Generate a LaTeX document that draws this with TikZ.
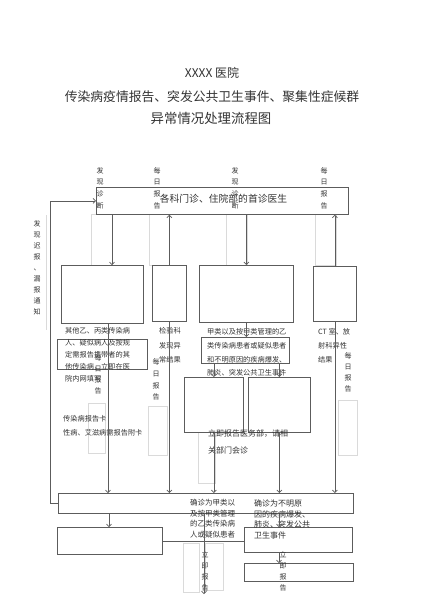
\documentclass[tikz,border=0pt]{standalone}
\usepackage{fontspec}
\setmainfont{Noto Sans CJK SC}
\usetikzlibrary{arrows.meta}
\definecolor{linec}{HTML}{5C5C5C}
\definecolor{txtc}{HTML}{333333}
\definecolor{faintc}{HTML}{DADADA}
\begin{document}
\begin{tikzpicture}[x=1pt,y=-1pt,
  box/.style={draw=linec,line width=0.8pt,inner sep=0pt,anchor=north west},
  faint/.style={draw=faintc,line width=0.6pt},
  arr/.style={draw=linec,line width=0.7pt,-{Straight Barb[length=2.5pt,width=5pt]}},
  conn/.style={draw=linec,line width=0.7pt},
  txt/.style={inner sep=0pt,text=txtc,align=left,anchor=west},
  vlab/.style={inner sep=0pt,text=txtc,align=center,font=\fontsize{7}{11.7}\selectfont},
  small/.style={font=\fontsize{7}{12}\selectfont}
]
\useasboundingbox[fill=white] (0,0) rectangle (424,600);

% faint text-box outlines (scan artefacts)
\draw[faint] (91,214) rectangle (112,265);
\draw[faint] (149,214) rectangle (169,265);
\draw[faint] (226,214) rectangle (247,265);
\draw[faint] (315,214) rectangle (336,265);
\draw[faint] (46,215) -- (46,330);
\draw[faint] (88,403) rectangle (105,453);
\draw[faint] (148,406) rectangle (167,455);
\draw[faint] (198,432) rectangle (215,483);
\draw[faint] (338,400) rectangle (357,455);
\draw[faint] (183,543) rectangle (199,592);
\draw[faint] (205,543) rectangle (223,590);

% titles
\node[inner sep=0pt,text=txtc,font=\fontsize{12}{12}\selectfont] (t1) at (212,73) {XXXX 医院};
\node[inner sep=0pt,text=txtc,font=\fontsize{12.8}{13}\selectfont] (t2) at (212,97) {传染病疫情报告、突发公共卫生事件、聚集性症候群};
\node[inner sep=0pt,text=txtc,font=\fontsize{13.4}{14}\selectfont] (t3) at (211,118) {异常情况处理流程图};

% boxes
\node[box,minimum width=252pt,minimum height=27pt] (top) at (96,187) {};
\node[inner sep=0pt,text=txtc,font=\fontsize{9.8}{10}\selectfont] (toptxt) at (223.5,199) {各科门诊、住院部的首诊医生};
\node[box,minimum width=82pt,minimum height=58pt] (b1) at (61,265) {};
\node[box,minimum width=34pt,minimum height=56pt] (b2) at (152,265) {};
\node[box,minimum width=94pt,minimum height=57pt] (b3) at (199,265) {};
\node[box,minimum width=43pt,minimum height=55pt] (b4) at (313,266) {};
\node[box,minimum width=90pt,minimum height=30pt] (r1) at (57,339) {};
\node[box,minimum width=88pt,minimum height=26pt] (r3) at (201,337) {};
\node[box,minimum width=59pt,minimum height=55pt] (b5) at (184,377) {};
\node[box,minimum width=62pt,minimum height=55pt] (b6) at (248,377) {};
\node[box,minimum width=295pt,minimum height=20pt] (big) at (58,493) {};
\node[box,minimum width=105pt,minimum height=27pt] (b7) at (57,527) {};
\node[box,minimum width=108pt,minimum height=25pt] (b8) at (244,527) {};
\node[box,minimum width=109pt,minimum height=18pt] (b9) at (244,563) {};

% vertical labels
\node[vlab] (v1) at (100,188) {发\\现\\诊\\断};
\node[vlab] (v2) at (157,188) {每\\日\\报\\告};
\node[vlab] (v3) at (235,188) {发\\现\\诊\\断};
\node[vlab] (v4) at (324,188) {每\\日\\报\\告};
\node[vlab,font=\fontsize{7}{11}\selectfont] (vl) at (37,268) {发\\现\\迟\\报\\、\\漏\\报\\通\\知};
\node[vlab,font=\fontsize{7}{11}\selectfont] (v5) at (98,374.5) {每\\日\\报\\告};
\node[vlab] (v6) at (156,379.5) {每\\日\\报\\告};
\node[vlab,font=\fontsize{7}{11}\selectfont] (v7) at (348,372.5) {每\\日\\报\\告};
\node[vlab,font=\fontsize{7}{11}\selectfont] (v8) at (205,571.5) {立\\即\\报\\告};
\node[vlab,font=\fontsize{7}{11}\selectfont] (v9) at (283,571.5) {立\\即\\报\\告};

% body texts
\node[txt,font=\fontsize{7.2}{12}\selectfont] (tx1) at (65,355) {其他乙、丙类传染病\\人、疑似病人及按规\\定需报告携带者的其\\他传染病，立即在医\\院内网填写};
\node[txt,font=\fontsize{7.2}{14.5}\selectfont] (tx2) at (159,345.5) {检验科\\发现异\\常结果};
\node[txt,font=\fontsize{7.2}{13.7}\selectfont] (tx3) at (207,352.5) {甲类以及按甲类管理的乙\\类传染病患者或疑似患者\\和不明原因的疾病爆发、\\肺炎、突发公共卫生事件};
\node[txt,font=\fontsize{7.2}{14}\selectfont] (tx4) at (318,346) {CT 室、放\\射科异性\\结果};
\node[txt,font=\fontsize{7.2}{14}\selectfont] (tx5) at (63,426) {传染病报告卡\\性病、艾滋病需报告附卡};
\node[txt,font=\fontsize{8}{17}\selectfont] (tx6) at (208,441.5) {立即报告医务部，请相\\关部门会诊};
\node[txt,font=\fontsize{7.5}{10.5}\selectfont] (tx7) at (190,518.7) {确诊为甲类以\\及按甲类管理\\的乙类传染病\\人或疑似患者};
\node[txt,font=\fontsize{8}{10.5}\selectfont] (tx8) at (254,519.7) {确诊为不明原\\因的疾病爆发、\\肺炎、突发公共\\卫生事件};

% column coordinates
\coordinate (xA) at (112,0);
\coordinate (xB) at (108,0);
\coordinate (xC) at (109,0);
\coordinate (xD) at (204,0);
\coordinate (xE) at (279,0);
\coordinate (endD) at (204,594);

% connectors
\draw[arr] (top.south -| xA) -- (b1.north -| xA);
\draw[arr] (b2.north) -- (b2.north |- top.south);
\draw[arr] (top.south -| b3.north) -- (b3.north);
\draw[arr] (b4.north) -- (b4.north |- top.south);
\draw[arr] (b1.south -| xB) -- (big.north -| xB);
\draw[arr] (b2.south) -- (big.north -| b2.south);
\draw[arr] (b3.south) -- (r3.north -| b3.south);
\draw[arr] (r3.south -| b5.north) -- (b5.north);
\draw[arr] (r3.south -| b6.north) -- (b6.north);
\draw[arr] (b5.south) -- (big.north -| b5.south);
\draw[arr] (b6.south) -- (big.north -| b6.south);
\draw[arr] (b4.south) -- (big.north -| b4.south);
\draw[arr] (big.west) -- ++(-8,0) |- (top.west);
\draw[arr] (big.south -| xC) -- (b7.north -| xC);
\draw[arr] (big.south -| xD) -- (endD);
\draw[arr] (big.south -| xE) -- (b8.north -| xE);
\draw[arr] (b8.south -| xE) -- (b9.north -| xE);
\draw[conn] (b7.east) -- (b7.east -| b8.west);
\end{tikzpicture}
\end{document}
